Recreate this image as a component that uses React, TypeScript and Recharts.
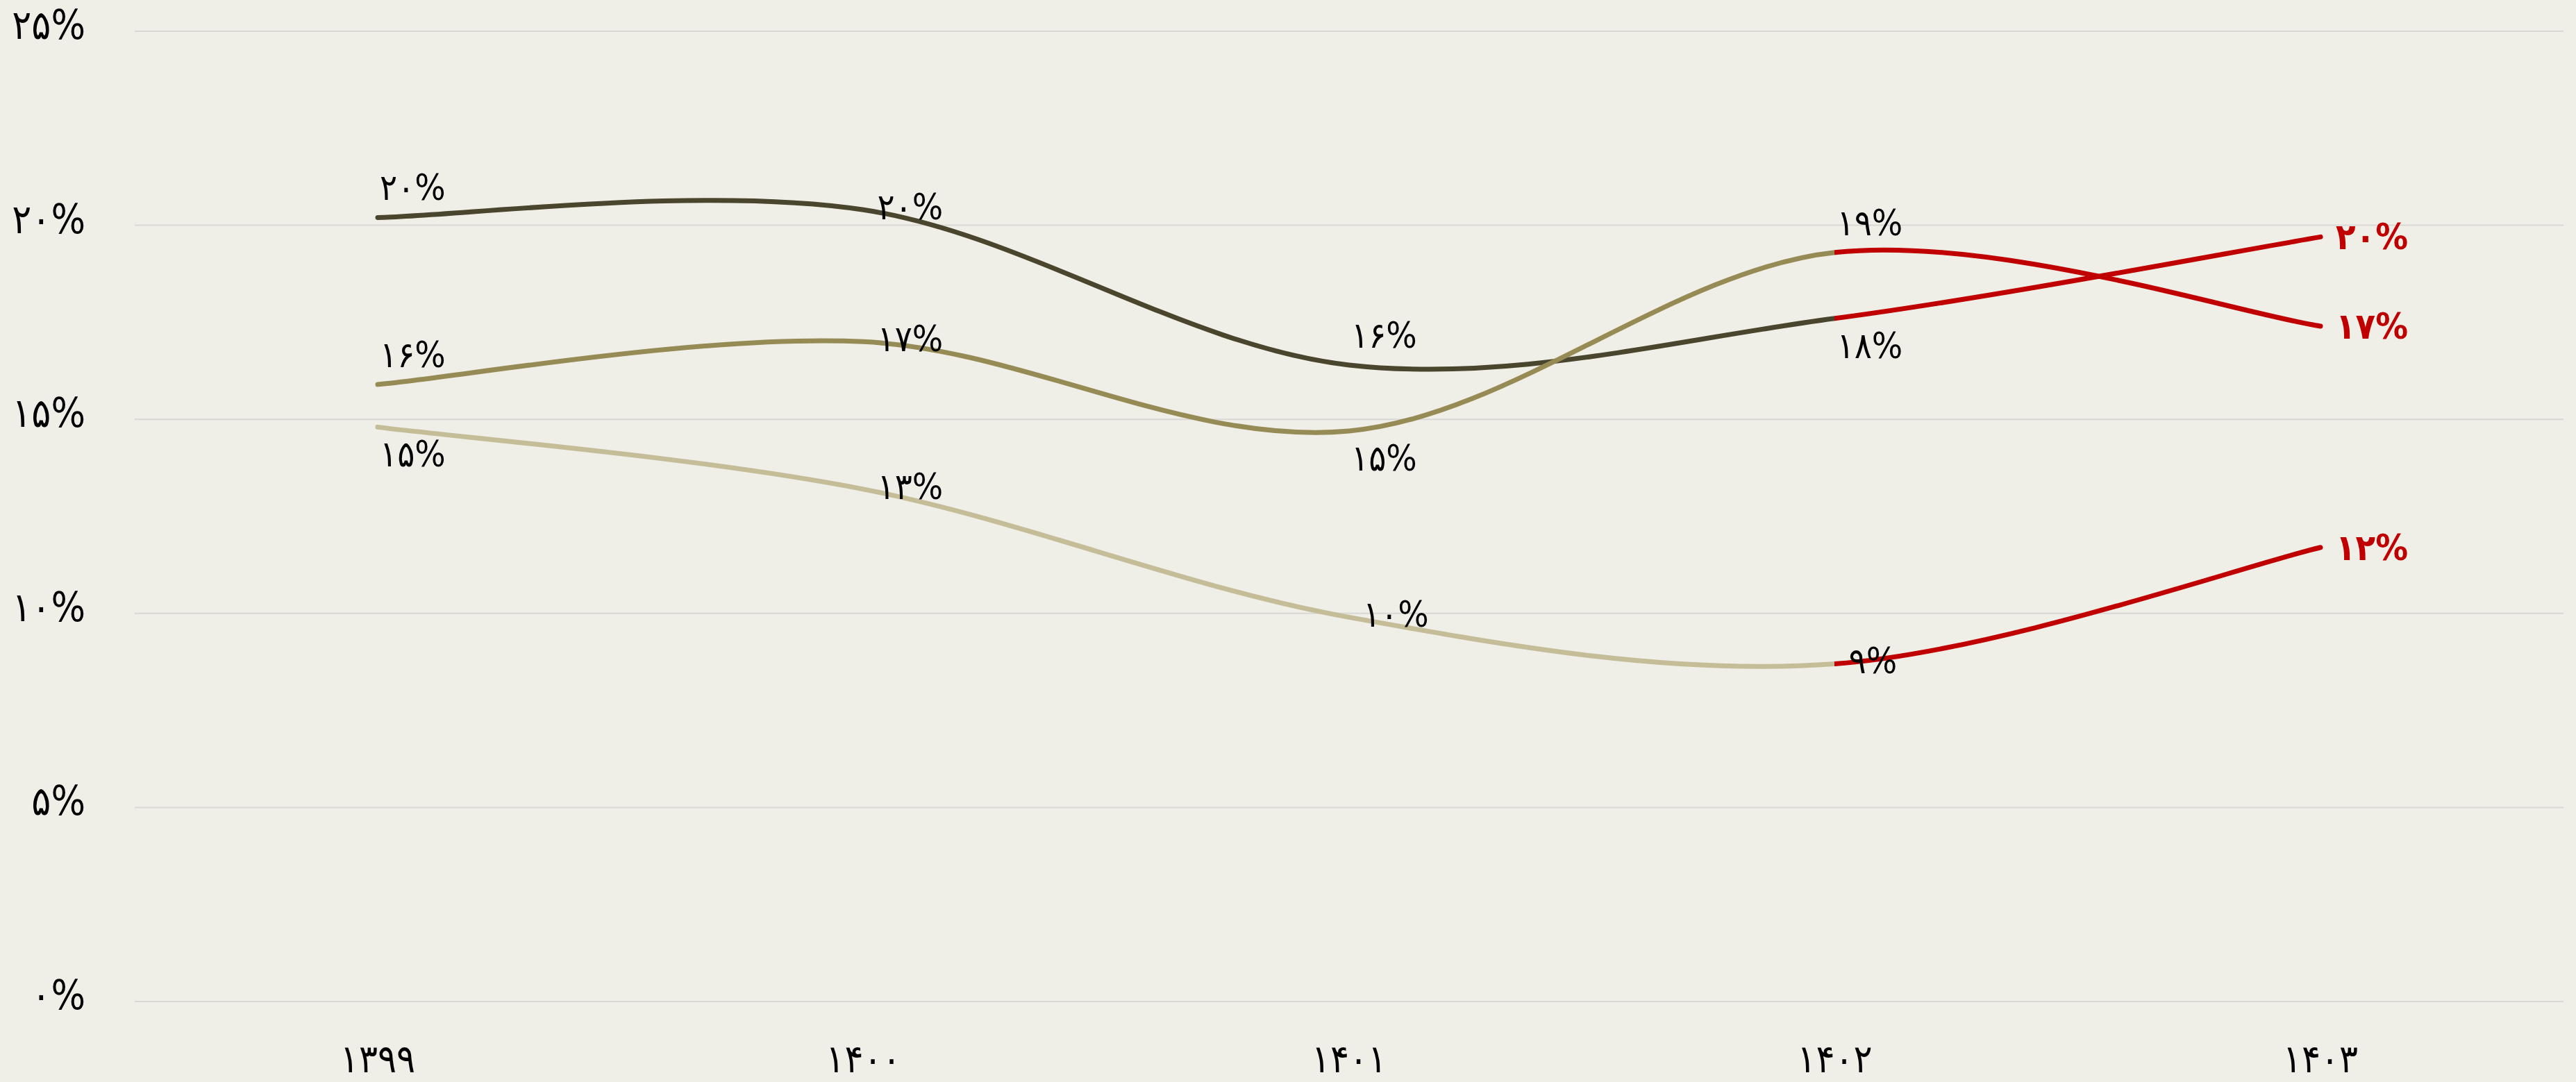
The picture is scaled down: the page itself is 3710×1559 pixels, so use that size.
import { CartesianGrid, LabelList, Line, LineChart, XAxis, YAxis } from "recharts"

const years = ["۱۳۹۹", "۱۴۰۰", "۱۴۰۱", "۱۴۰۲", "۱۴۰۳"]
const darkValues = [20.2, 20.4, 16.4, 17.6, 19.7]
const oliveValues = [15.9, 17.0, 14.7, 19.3, 17.4]
const lightValues = [14.8, 13.2, 9.9, 8.7, 11.7]
const yTicks = [0, 5, 10, 15, 20, 25]

const data = years.map((year, i) => ({
  year,
  dark: darkValues[i],
  olive: oliveValues[i],
  light: lightValues[i],
}))

const font = "'DejaVu Sans Condensed', 'DejaVu Sans', sans-serif"
const red = "#c00000"
const faDigits = "۰۱۲۳۴۵۶۷۸۹"
const toFa = (v: number) => String(v).replace(/\d/g, (d) => faDigits[+d])
const pct = (v: number) => toFa(Math.round(v)) + "%"

// where each point's label sits, per series
const series = [
  { key: "light", color: "#c5bd98", place: ["below", "right", "right", "right", "end"] },
  { key: "dark", color: "#4a452d", place: ["above", "right", "above", "below", "end"] },
  { key: "olive", color: "#968b55", place: ["above", "right", "below", "above", "end"] },
]

// last segment switches to red
const splitAt = (years.length - 2) / (years.length - 1)

// smooth line like the spreadsheet one (catmull-rom through the points)
function smooth(context: any) {
  let pts: number[][] = []
  return {
    areaStart() {},
    areaEnd() {},
    lineStart() {
      pts = []
    },
    point(x: number, y: number) {
      pts.push([+x, +y])
    },
    lineEnd() {
      if (!pts.length) return
      context.moveTo(pts[0][0], pts[0][1])
      for (let i = 0; i < pts.length - 1; i++) {
        const p0 = pts[Math.max(i - 1, 0)]
        const p1 = pts[i]
        const p2 = pts[i + 1]
        const p3 = pts[Math.min(i + 2, pts.length - 1)]
        context.bezierCurveTo(
          p1[0] + (p2[0] - p0[0]) / 6,
          p1[1] + (p2[1] - p0[1]) / 6,
          p2[0] - (p3[0] - p1[0]) / 6,
          p2[1] - (p3[1] - p1[1]) / 6,
          p2[0],
          p2[1]
        )
      }
    },
  }
}

const makeLabel = (place: string[]) => (props: any) => {
  const { x, y, value, index } = props
  const p = place[index]
  let dx = 3
  let dy = -25
  let fill = "#000"
  let weight = 400
  if (p === "below") dy = 57
  else if (p === "right") {
    dx = 20
    dy = 14
  } else if (p === "end") {
    dx = 22
    dy = 18
    fill = red
    weight = 700
  }
  return (
    <text x={x + dx} y={y + dy} fill={fill} fontWeight={weight} fontSize={52} fontFamily={font} textAnchor="start">
      {pct(value)}
    </text>
  )
}

const YTick = ({ x, y, payload }: any) => (
  <text x={x} y={y + 11} textAnchor="end" fontSize={58} fontFamily={font} fill="#000">
    {pct(payload.value)}
  </text>
)

const XTick = ({ x, y, payload }: any) => (
  <text x={x} y={y + 102} textAnchor="middle" fontSize={56} fontFamily={font} fill="#000">
    {payload.value}
  </text>
)

export default function App() {
  return (
    <div style={{ position: "absolute", left: 0, top: 0, width: 3710, height: 1559, background: "#efeee7" }}>
      <LineChart width={3710} height={1559} data={data} margin={{ top: 45, right: 18, left: 0, bottom: 0 }}>
        <defs>
          {series.map((s) => (
            <linearGradient key={s.key} id={`grad-${s.key}`} x1="0" y1="0" x2="1" y2="0">
              <stop offset={0} stopColor={s.color} />
              <stop offset={splitAt} stopColor={s.color} />
              <stop offset={splitAt} stopColor={red} />
              <stop offset={1} stopColor={red} />
            </linearGradient>
          ))}
        </defs>
        <CartesianGrid vertical={false} stroke="#d9d8d5" strokeWidth={2} />
        <XAxis
          dataKey="year"
          axisLine={false}
          tickLine={false}
          tickSize={0}
          tickMargin={0}
          height={116}
          padding={{ left: 350, right: 350 }}
          tick={<XTick />}
          interval={0}
        />
        <YAxis
          domain={[0, 25]}
          ticks={yTicks}
          axisLine={false}
          tickLine={false}
          tickSize={0}
          tickMargin={71}
          width={194}
          tick={<YTick />}
        />
        {series.map((s) => (
          <Line
            key={s.key}
            dataKey={s.key}
            type={smooth as any}
            stroke={`url(#grad-${s.key})`}
            strokeWidth={7}
            strokeLinecap="round"
            dot={false}
            activeDot={false}
            isAnimationActive={false}
          >
            <LabelList dataKey={s.key} content={makeLabel(s.place)} />
          </Line>
        ))}
      </LineChart>
    </div>
  )
}
